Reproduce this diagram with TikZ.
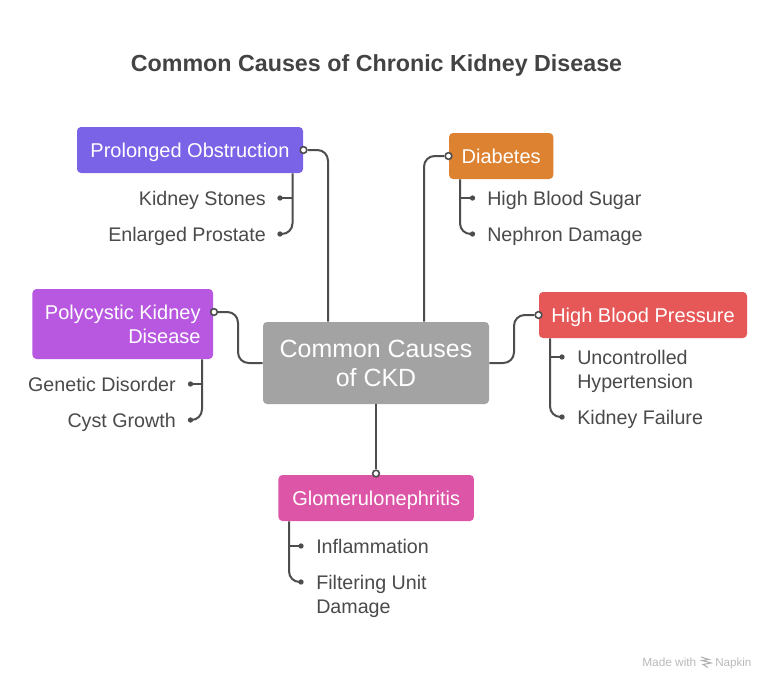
\documentclass[tikz,border=0pt]{standalone}
\usepackage{fontspec}
\setmainfont{Liberation Sans}
\definecolor{ink}{HTML}{4A4A4A}
\definecolor{wire}{HTML}{4D4D4D}
\definecolor{cpurple}{HTML}{7B63E8}
\definecolor{cviolet}{HTML}{B857E0}
\definecolor{corange}{HTML}{DD8230}
\definecolor{cred}{HTML}{E65757}
\definecolor{cpink}{HTML}{DD55A6}
\definecolor{cgrey}{HTML}{A3A3A3}
\newcommand{\ls}{\rule[-0.2em]{0pt}{1.12em}}
\tikzset{
  box/.style={rectangle,rounded corners=3pt,inner sep=0pt,text=white,font=\fontsize{15}{18}\selectfont,align=right},
  leaf/.style={inner sep=0pt,text=ink,font=\fontsize{14.75}{18}\selectfont},
  leafl/.style={leaf,anchor=west,align=left},
  leafr/.style={leaf,anchor=east,align=right},
  pin/.style={circle,draw=wire,fill=white,line width=1.2pt,minimum size=5pt,inner sep=0pt},
  tip/.style={circle,fill=wire,minimum size=4pt,inner sep=0pt},
  conn/.style={draw=wire,line width=1.5pt,rounded corners=8pt},
  branch/.style={draw=wire,line width=1.5pt,rounded corners=8pt}
}
\begin{document}
\begin{tikzpicture}[x=0.75pt,y=-0.75pt]
\useasboundingbox[fill=white] (0,0) rectangle (775,690);
\node[inner sep=0pt,text=ink!90!black,font=\fontsize{17.45}{22}\bfseries\selectfont] (title) at (376.5,63) {\ls Common Causes of Chronic Kidney Disease};

% main boxes
\node[box,fill=cgrey,minimum width=169.5pt,minimum height=61.5pt,align=center,font=\fontsize{18.7}{18}\selectfont] (cent) at (376,363) {\ls Common Causes\\\ls of CKD};
\node[box,fill=cpurple,minimum width=169.5pt,minimum height=34.5pt] (obst) at (190,150) {\ls Prolonged Obstruction};
\node[box,fill=cviolet,minimum width=135.4pt,minimum height=52.5pt] (poly) at (122.75,324) {\ls Polycystic Kidney\\\ls Disease};
\node[box,fill=corange,minimum width=78.2pt,minimum height=34.5pt] (diab) at (501.2,156) {\ls Diabetes};
\node[box,fill=cred,minimum width=156pt,minimum height=34.5pt] (hbp) at (643,315) {\ls High Blood Pressure};
\node[box,fill=cpink,minimum width=146.6pt,minimum height=34.5pt] (glom) at (376.2,498) {\ls Glomerulonephritis};

% leaf texts
\node[leafr] (ks) at (266,198) {\ls Kidney Stones};
\node[leafr] (ep) at (266,234) {\ls Enlarged Prostate};
\node[leafr] (gd) at (176,384) {\ls Genetic Disorder};
\node[leafr] (cg) at (176,420) {\ls Cyst Growth};
\node[leafl] (hs) at (487,198) {\ls High Blood Sugar};
\node[leafl] (nd) at (487,234) {\ls Nephron Damage};
\node[leafl] (uh) at (577,369) {\ls Uncontrolled\\\ls Hypertension};
\node[leafl] (kf) at (577,417) {\ls Kidney Failure};
\node[leafl] (in) at (316,546) {\ls Inflammation};
\node[leafl] (fu) at (316,594) {\ls Filtering Unit\\\ls Damage};

% turning points
\coordinate (t1) at (328,150);
\coordinate (t2) at (424,156);
\coordinate (t3a) at (514,363);
\coordinate (t3b) at (514,315);
\coordinate (t4a) at (238,312);
\coordinate (t4b) at (238,363);
\coordinate (s1) at (292.5,234);
\coordinate (s2) at (202,420);
\coordinate (s3) at (460,234);
\coordinate (s4) at (550,417);
\coordinate (s5) at (289,582);

% tips
\node[tip] (d1) at (280,198) {};
\node[tip] (d2) at (280,234) {};
\node[tip] (d3) at (190.5,384) {};
\node[tip] (d4) at (190.5,420) {};
\node[tip] (d5) at (472.5,198) {};
\node[tip] (d6) at (472.5,234) {};
\node[tip] (d7) at (562,357) {};
\node[tip] (d8) at (562,417) {};
\node[tip] (d9) at (301,546) {};
\node[tip] (d10) at (301,582) {};

% branches under each box
\draw[branch] (obst.south -| s1) -- (s1) -- (d2.center);
\draw[branch] (d1.center -| s1) -- (d1.center);
\draw[branch] (poly.south -| s2) -- (s2) -- (d4.center);
\draw[branch] (d3.center -| s2) -- (d3.center);
\draw[branch] (diab.south -| s3) -- (s3) -- (d6.center);
\draw[branch] (d5.center -| s3) -- (d5.center);
\draw[branch] (hbp.south -| s4) -- (s4) -- (d8.center);
\draw[branch] (d7.center -| s4) -- (d7.center);
\draw[branch] (glom.south -| s5) -- (s5) -- (d10.center);
\draw[branch] (d9.center -| s5) -- (d9.center);

% pins
\node[pin] (p1) at (303.5,150) {};
\node[pin] (p2) at (448.5,156) {};
\node[pin] (p3) at (538.5,315) {};
\node[pin] (p4) at (214,312) {};
\node[pin] (p5) at (376,473.5) {};

% connectors from the centre
\draw[conn] (cent.north -| t1) -- (t1) -- (p1);
\draw[conn] (cent.north -| t2) -- (t2) -- (p2);
\draw[conn] (cent.east) -- (t3a) -- (t3b) -- (p3);
\draw[conn] (cent.west) -- (t4b) -- (t4a) -- (p4);
\draw[conn,rounded corners=0pt] (cent.south) -- (p5);

% footer
\node[inner sep=0pt,anchor=west,text=black!27,font=\fontsize{8.9}{10}\selectfont] (made) at (642,662) {\ls Made with};
\node[inner sep=0pt,anchor=west,text=black!27,font=\fontsize{8.7}{10}\selectfont] (nap) at (715,662) {\ls Napkin};
\draw[black!30,line width=0.8pt] (701,657) -- (709,659.5) -- (702,660.5) -- (711,663) -- (703,664.5) -- (708,667.5);
\end{tikzpicture}
\end{document}
